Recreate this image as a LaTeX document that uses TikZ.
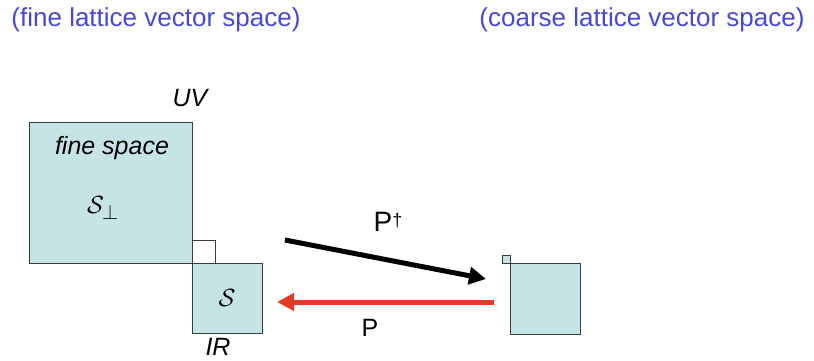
\documentclass[tikz,border=0pt]{standalone}
\usepackage{fontspec}
\setmainfont{Liberation Sans}
\usepackage{amsmath,amssymb}
\usetikzlibrary{arrows.meta,positioning}
\definecolor{boxFill}{RGB}{198, 228, 229}
\definecolor{boxEdge}{RGB}{55, 62, 62}
\definecolor{titleBlue}{RGB}{72, 72, 214}
\definecolor{arrowRed}{RGB}{228, 58, 42}

\begin{document}
\begin{tikzpicture}[x=1pt, y=-1pt,
    space/.style={draw=boxEdge, fill=boxFill, line width=0.8pt, inner sep=0pt, outer sep=0pt},
    heading/.style={text=titleBlue, font=\fontsize{26pt}{30pt}\selectfont},
    lbl/.style={font=\fontsize{25pt}{29pt}\selectfont\itshape, inner sep=0pt},
    maparrow/.style={line width=5pt, -{Triangle[length=17pt, width=17pt]}}]
\useasboundingbox (0,0) rectangle (814,361);

% headings
\node[heading] (fineTitle) at (156,20) {(fine lattice vector space)};
\node[heading] (coarseTitle) at (642,20) {(coarse lattice vector space)};

% fine lattice side
\node[space, anchor=north west, minimum width=163pt, minimum height=141pt] (fine) at (29,122) {};
\node[space, anchor=north west, minimum width=70pt, minimum height=70pt] (ir) at (fine.south east) {};
\draw[boxEdge, line width=0.8pt] (fine.south east) ++(0,-23) -- ++(23,0) -- ++(0,23);
\node[lbl] (uv) at (190,98) {UV};
\node[lbl] (fineLbl) at (112,148) {fine space};
\node[inner sep=0pt, font=\fontsize{28pt}{32pt}\selectfont] (sperp) at (103,208) {$\mathcal{S}_{\perp}$};
\node[inner sep=0pt, font=\fontsize{28pt}{32pt}\selectfont] (sir) at (ir.center) {$\mathcal{S}$};
\node[lbl] (irLbl) at (218,347) {IR};

% coarse lattice side
\node[space, anchor=north west, minimum width=70pt, minimum height=71pt] (coarse) at (510,263) {};
\node[space, anchor=south east, minimum width=8pt, minimum height=8pt] (tiny) at (coarse.north west) {};

% maps between them
\coordinate (pdFrom) at (285,240);
\coordinate (pdTo) at (486,279);
\coordinate (pFrom) at (494,302);
\coordinate (pTo) at (277,302);
\draw[maparrow, black] (pdFrom) -- (pdTo);
\draw[maparrow, arrowRed] (pFrom) -- (pTo);
\node[font=\fontsize{28pt}{32pt}\selectfont] (pdLbl) at (388,222) {P\raisebox{5pt}{\fontsize{18pt}{20pt}\selectfont †}};
\node[font=\fontsize{25pt}{29pt}\selectfont] (pLbl) at (370,328) {P};
\end{tikzpicture}
\end{document}
